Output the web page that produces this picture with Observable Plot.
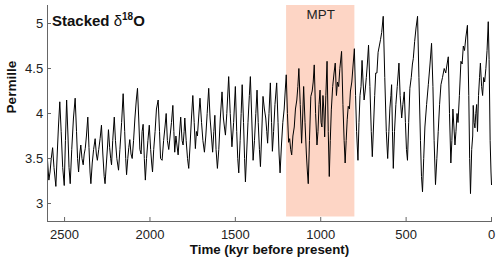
<!DOCTYPE html>
<html><head><meta charset="utf-8">
<script src="https://cdn.jsdelivr.net/npm/d3@7"></script>
<script src="https://cdn.jsdelivr.net/npm/@observablehq/plot@0.6"></script>
<style>
html,body{margin:0;padding:0;background:#fff;}
#chart{width:500px;height:263px;}
</style></head><body><div id="chart"></div>
<script>
// Age (kyr before present) and stacked benthic d18O (permille)
const ages = [
2600,2592,2585,2578,2570,2562,2551,2543,2536,2528,2520,2511,2502,2495,2488,2480,2474,2467,2458,2448,
2438,2430,2424,2418,2411,2405,2398,2391,2385,2379,2372,2364,2357,2351,2346,2338,2330,2321,2314,2308,
2300,2292,2284,2276,2268,2263,2255,2248,2243,2236,2230,2225,2218,2209,2202,2194,2184,2176,2166,2157,
2148,2142,2137,2130,2124,2118,2111,2104,2096,2088,2080,2073,2066,2059,2052,2046,2040,2033,2027,2020,
2012,2004,1996,1990,1985,1978,1970,1962,1952,1944,1938,1929,1920,1912,1905,1898,1890,1882,1874,1866,
1860,1855,1848,1842,1835,1828,1820,1812,1806,1800,1796,1788,1780,1773,1765,1757,1749,1741,1734,1728,
1722,1715,1707,1698,1690,1681,1673,1665,1656,1648,1640,1633,1626,1620,1613,1605,1597,1588,1578,1570,
1564,1558,1550,1539,1530,1520,1510,1500,1492,1486,1480,1472,1466,1460,1452,1446,1441,1434,1426,1418,
1412,1404,1396,1388,1380,1373,1366,1359,1353,1346,1338,1330,1322,1316,1311,1303,1295,1288,1283,1276,
1268,1258,1250,1244,1238,1230,1222,1214,1208,1202,1195,1188,1182,1176,1170,1163,1155,1148,1140,1134,
1128,1120,1112,1106,1100,1092,1084,1078,1073,1066,1058,1050,1044,1038,1030,1022,1016,1010,1004,998,
993,987,982,977,970,963,956,950,944,938,930,922,915,908,902,895,888,878,870,863,
857,851,845,839,832,826,818,810,803,796,790,782,776,770,764,758,752,746,740,733,
727,720,712,704,698,691,684,678,671,664,657,650,643,634,625,616,608,601,595,589,
585,580,575,568,560,552,546,542,535,526,519,511,504,498,492,485,478,470,463,458,
450,442,433,425,416,410,404,397,390,380,370,360,351,343,336,328,320,312,304,296,
287,277,268,260,253,246,238,232,226,220,214,208,202,196,188,179,172,165,158,150,
141,133,128,123,116,110,107,102,97,92,87,82,76,70,65,58,52,46,40,33,
26,19,14,8,3,0];
const d18O = [
3.48,3.26,3.35,3.50,3.62,3.40,3.19,3.55,3.85,4.13,3.80,3.40,3.20,3.70,4.15,3.75,3.40,3.22,3.60,3.95,
4.17,3.80,3.50,3.35,3.55,3.65,3.50,3.43,3.55,3.61,3.75,3.96,3.62,3.35,3.22,3.45,3.60,3.72,3.55,3.48,
3.60,3.72,3.87,3.55,3.30,3.22,3.45,3.65,3.82,3.62,3.50,3.43,3.70,3.96,3.70,3.50,3.37,3.60,3.90,4.22,
3.80,3.50,3.32,3.50,3.62,3.71,3.55,3.50,3.70,3.95,4.15,4.28,3.95,3.60,3.55,3.80,3.88,3.50,3.26,3.50,
3.70,3.87,3.60,3.45,3.35,3.60,3.80,4.05,4.15,3.80,3.50,3.48,3.70,3.85,4.00,3.70,3.60,3.75,3.90,4.09,
3.80,3.57,3.75,3.65,3.54,3.75,3.96,3.70,3.65,3.80,3.95,3.70,3.50,3.39,3.65,3.95,4.20,3.90,3.61,3.80,
3.75,3.95,4.17,3.90,3.70,3.57,3.75,4.00,4.28,3.95,3.75,3.57,3.80,3.98,3.60,3.39,3.60,3.95,4.24,3.95,
3.85,3.76,4.00,4.41,4.00,3.63,3.90,4.30,3.80,3.50,3.34,3.70,4.00,4.32,3.90,3.50,3.24,3.55,3.90,4.20,
4.41,3.95,3.48,3.70,4.00,4.26,3.90,3.60,3.41,3.75,4.19,4.05,3.95,3.80,3.67,4.00,4.34,3.90,3.58,3.80,
4.10,4.34,3.90,3.55,3.34,3.65,3.90,4.05,4.25,4.43,4.00,3.68,3.72,3.60,3.54,3.75,3.85,4.05,4.15,4.30,
4.50,4.10,3.67,3.95,4.30,3.90,3.55,3.35,3.22,3.70,4.19,4.25,4.35,4.54,4.00,3.65,3.80,4.10,4.26,3.90,
3.85,4.20,4.05,3.74,4.20,4.58,3.80,3.30,3.70,4.04,4.30,4.45,4.56,4.20,4.35,4.30,4.50,4.69,4.10,3.70,
3.45,3.70,3.93,4.08,4.05,4.25,4.35,4.55,4.72,4.20,3.80,3.48,3.90,4.20,4.30,4.59,4.35,4.15,4.25,4.40,
4.55,4.76,4.30,3.80,3.52,3.85,4.20,4.45,4.45,4.68,4.75,4.82,4.90,5.08,4.40,3.80,3.50,3.80,4.06,4.20,
4.32,3.80,3.39,3.80,4.10,4.30,4.45,4.56,4.20,3.95,4.10,4.24,3.90,3.60,3.48,3.90,4.28,4.40,4.55,4.61,
4.80,4.95,5.08,4.40,3.70,3.30,3.13,3.50,3.85,4.10,4.32,4.55,4.78,4.30,3.70,3.21,3.50,3.80,4.10,4.32,
4.40,4.50,4.45,4.55,4.63,4.00,3.45,3.70,4.05,3.85,3.65,3.80,4.00,3.90,4.20,4.58,4.55,4.75,4.70,4.85,
4.98,4.20,3.50,3.11,3.60,3.75,4.09,3.90,3.84,4.00,4.10,3.80,4.20,4.40,4.56,4.30,4.20,4.40,4.35,4.50,
4.70,5.02,4.60,3.70,3.35,3.21];

const xTicks = [2500, 2000, 1500, 1000, 500, 0];
const yTicks = [3, 3.5, 4, 4.5, 5];
const xDomain = [2600, 0];
const yDomain = [2.8, 5.2];
const mptRange = [1200, 800];
const mptBand = [2.85, 5.2];
const mptLabel = "MPT";
const xLabel = "Time (kyr before present)";
const yLabel = "Permille";

const data = ages.map((a, i) => ({age: a, v: d18O[i]}));
const font = "'Liberation Sans', Arial, Helvetica, sans-serif";

const chart = Plot.plot({
  width: 500, height: 263,
  marginLeft: 47, marginRight: 9, marginTop: 5, marginBottom: 42,
  style: {fontFamily: font, fontSize: "13px", background: "white", color: "#222", overflow: "visible"},
  x: {domain: xDomain, label: null},
  y: {domain: yDomain, label: null},
  marks: [
    Plot.rect([mptRange], {x1: d => d[0], x2: d => d[1], y1: () => mptBand[0], y2: () => mptBand[1], fill: "#fdd5c5"}),
    Plot.line(data, {x: "age", y: "v", stroke: "black", strokeWidth: 1}),
    Plot.frame({anchor: "left", stroke: "#666"}),
    Plot.frame({anchor: "bottom", stroke: "#666"}),
    Plot.axisX(xTicks, {tickSize: -4, tickPadding: 12, stroke: "#666", fill: "#222", tickFormat: d => String(d), label: null}),
    Plot.axisY(yTicks, {tickSize: -4, tickPadding: 8.3, stroke: "#666", fill: "#222", tickFormat: d => String(d), label: null}),
    Plot.text([mptLabel], {x: () => (mptRange[0] + mptRange[1]) / 2, text: d => d, frameAnchor: "top", lineAnchor: "top", dy: 3.5, fontSize: 13.4, fill: "#222"}),
    Plot.text([xLabel], {text: d => d, frameAnchor: "bottom", lineAnchor: "middle", dy: 28.7, fontSize: 13.3, fontWeight: "bold", fill: "#111"}),
    Plot.text([yLabel], {text: d => d, frameAnchor: "left", lineAnchor: "middle", rotate: -90, dx: -35.5, fontSize: 13.6, fontWeight: "bold", fill: "#111"})
  ]
});

const svg = d3.select(chart);
const t = svg.append("text")
  .attr("x", 52).attr("y", 26)
  .attr("text-anchor", "start")
  .attr("font-family", font).attr("font-size", 15).attr("fill", "#111");
t.append("tspan").attr("font-weight", "bold").text("Stacked ");
t.append("tspan").attr("font-weight", "normal").text("δ");
t.append("tspan").attr("font-weight", "bold").attr("font-size", 10).attr("dy", -6).text("18");
t.append("tspan").attr("font-weight", "bold").attr("dy", 6).text("O");

document.getElementById("chart").appendChild(chart);
</script>
</body></html>
